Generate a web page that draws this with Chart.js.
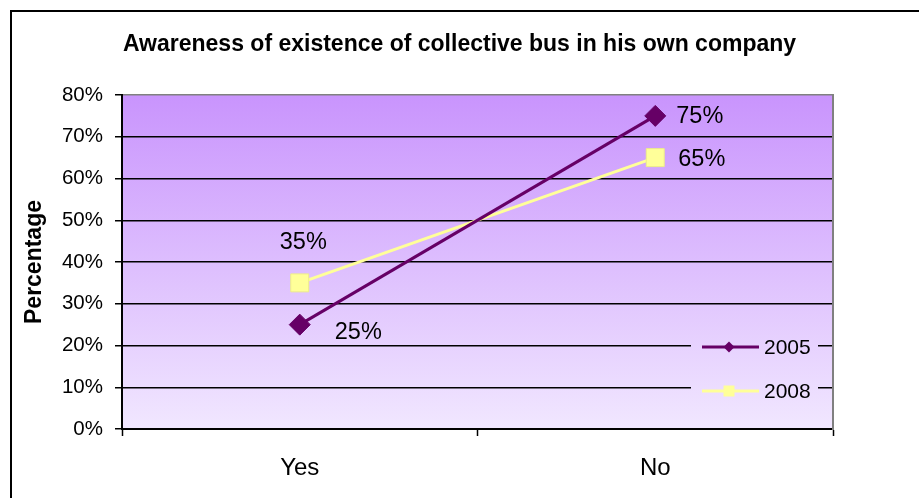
<!DOCTYPE html>
<html>
<head>
<meta charset="utf-8">
<script src="https://cdn.jsdelivr.net/npm/chart.js@4.4.1/dist/chart.umd.min.js"></script>
<style>
  html, body { margin: 0; padding: 0; background: #fff; }
  #wrap { width: 919px; height: 498px; position: relative; }
</style>
</head>
<body>
<div id="wrap"><canvas id="c" width="919" height="498"></canvas></div>
<script>
// ---- data ----
const categories = ['Yes', 'No'];
const seriesNames = ['2005', '2008'];
const values2005 = [25, 75];
const values2008 = [35, 65];
const yMin = 0, yMax = 80, yStep = 10;
const chartTitle = 'Awareness of existence of collective bus in his own company';
const yAxisTitle = 'Percentage';

// ---- styles ----
const col2005 = '#660066';
const col2008 = '#ffff99';
const FONT = '"Liberation Sans", Arial, sans-serif';
const gradTop = '#c994fd';
const gradBottom = '#f1e7ff';

// label offsets (dx, dy, align) per dataset/point
const labelOffsets = [
  [{dx: 35, dy: 8, align: 'left'}, {dx: 21, dy: 1, align: 'left'}],
  [{dx: -20, dy: -40, align: 'left'}, {dx: 23, dy: 2, align: 'left'}]
];

function areaGradient(ctx, area) {
  const g = ctx.createLinearGradient(0, area.top, 0, area.bottom);
  g.addColorStop(0, gradTop);
  g.addColorStop(1, gradBottom);
  return g;
}

const bgPlugin = {
  id: 'bgPlugin',
  beforeDraw(chart) {
    const {ctx, chartArea: a} = chart;
    ctx.save();
    ctx.fillStyle = '#fff';
    ctx.fillRect(0, 0, chart.width, chart.height);
    ctx.fillStyle = areaGradient(ctx, a);
    ctx.fillRect(a.left, a.top, a.right - a.left, a.bottom - a.top);
    // outer frame (top and left visible)
    ctx.strokeStyle = '#000';
    ctx.lineWidth = 2;
    ctx.beginPath();
    ctx.moveTo(11, chart.height + 2);
    ctx.lineTo(11, 11);
    ctx.lineTo(chart.width + 2, 11);
    ctx.stroke();
    ctx.restore();
  },
  beforeDatasetsDraw(chart) {
    const {ctx, chartArea: a} = chart;
    // legend box covering gridlines
    const bx = 691, by = 326, bw = 127, bh = 84;
    ctx.save();
    ctx.fillStyle = areaGradient(ctx, a);
    ctx.fillRect(bx, by, bw, bh);
    const items = chart.data.datasets;
    items.forEach((ds, i) => {
      const y = 347 + i * 44;
      ctx.strokeStyle = ds.borderColor;
      ctx.lineWidth = 3;
      ctx.beginPath();
      ctx.moveTo(702, y);
      ctx.lineTo(759, y);
      ctx.stroke();
      ctx.fillStyle = ds.pointBackgroundColor;
      ctx.beginPath();
      if (ds.pointStyle === 'rectRot') {
        const r = 5.5;
        ctx.moveTo(729, y - r); ctx.lineTo(729 + r, y); ctx.lineTo(729, y + r); ctx.lineTo(729 - r, y);
        ctx.closePath();
      } else {
        ctx.rect(729 - 5.5, y - 5.5, 11, 11);
      }
      ctx.fill();
      ctx.fillStyle = '#000';
      ctx.font = '21px ' + FONT;
      ctx.textAlign = 'left';
      ctx.textBaseline = 'middle';
      ctx.fillText(ds.label, 764, y + 1);
    });
    ctx.restore();
  },
  afterDatasetsDraw(chart) {
    const {ctx} = chart;
    ctx.save();
    ctx.fillStyle = '#000';
    ctx.font = '23.5px ' + FONT;
    ctx.textBaseline = 'middle';
    chart.data.datasets.forEach((ds, di) => {
      const meta = chart.getDatasetMeta(di);
      meta.data.forEach((pt, pi) => {
        const o = labelOffsets[di][pi];
        ctx.textAlign = o.align;
        ctx.fillText(ds.data[pi] + '%', pt.x + o.dx, pt.y + o.dy);
      });
    });
    ctx.restore();
  }
};

new Chart(document.getElementById('c'), {
  type: 'line',
  data: {
    labels: categories,
    datasets: [
      {
        label: seriesNames[0],
        data: values2005,
        borderColor: col2005,
        backgroundColor: col2005,
        pointBackgroundColor: col2005,
        pointBorderColor: col2005,
        borderWidth: 3,
        pointStyle: 'rectRot',
        pointRadius: 10.5,
        pointBorderWidth: 1,
        tension: 0
      },
      {
        label: seriesNames[1],
        data: values2008,
        borderColor: col2008,
        backgroundColor: col2008,
        pointBackgroundColor: col2008,
        pointBorderColor: '#eeee88',
        borderWidth: 3,
        pointStyle: 'rect',
        pointRadius: 12.7,
        pointBorderWidth: 1,
        tension: 0
      }
    ]
  },
  plugins: [bgPlugin],
  options: {
    responsive: false,
    animation: false,
    events: [],
    layout: { padding: { left: 0, right: 0, top: 0, bottom: 0 } },
    plugins: {
      legend: { display: false },
      tooltip: { enabled: false },
      title: {
        display: true,
        text: chartTitle,
        color: '#000',
        font: { family: FONT, size: 23, weight: 'bold', lineHeight: 1.2 },
        padding: { top: 31, bottom: 36.4 }
      }
    },
    scales: {
      x: {
        type: 'category',
        offset: true,
        grid: {
          display: true,
          offset: true,
          drawOnChartArea: false,
          drawTicks: true,
          tickLength: 7,
          tickColor: '#000',
          tickWidth: 1.5,
          color: '#000'
        },
        border: { display: true, color: '#000', width: 2 },
        ticks: {
          color: '#000',
          font: { family: FONT, size: 24 },
          padding: 18,
          maxRotation: 0
        },
        afterFit(s) { s.height = 69; }
      },
      y: {
        position: 'left',
        min: yMin,
        max: yMax,
        grid: {
          display: true,
          drawOnChartArea: true,
          drawTicks: true,
          tickLength: 7,
          tickColor: '#000',
          lineWidth: 1.5,
          color: (c) => (c.tick && c.tick.value === yMax) ? '#808080' : '#000'
        },
        border: { display: true, color: '#000', width: 2 },
        ticks: {
          stepSize: yStep,
          color: '#000',
          font: { family: FONT, size: 20.5 },
          padding: 12,
          callback: (v) => v + '%'
        },
        title: {
          display: true,
          text: yAxisTitle,
          color: '#000',
          font: { family: FONT, size: 23, weight: 'bold', lineHeight: 1.2 },
          padding: { top: 21, bottom: 0 }
        },
        afterFit(s) { s.width = 122; }
      },
      yRight: {
        position: 'right',
        display: true,
        min: yMin,
        max: yMax,
        grid: { display: false, drawOnChartArea: false, drawTicks: false },
        border: { display: true, color: '#808080', width: 2 },
        ticks: { display: false },
        afterFit(s) { s.width = 86; }
      }
    }
  }
});
</script>
</body>
</html>
